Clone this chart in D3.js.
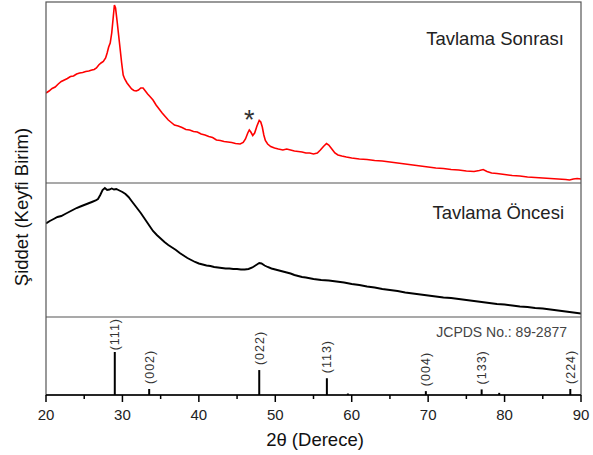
<!DOCTYPE html>
<meta charset="utf-8">
<head>
<script src="https://d3js.org/d3.v7.min.js"></script>
<style>
  body { margin: 0; background: #fff; }
  text { font-family: "Liberation Sans", Arial, sans-serif; }
</style>
</head>
<body>
<div id="chart"></div>
<script>
// 2theta / intensity (arb. units)
var sonrasiX = [20.0,20.4,20.8,21.2,21.6,22.0,22.4,22.8,23.2,23.6,24.0,24.4,24.8,25.2,25.6,26.0,26.3,26.6,26.9,27.2,27.5,27.8,28.0,28.2,28.4,28.6,28.8,28.95,29.1,29.3,29.5,29.7,29.9,30.1,30.3,30.6,30.9,31.2,31.5,31.8,32.1,32.4,32.7,33.0,33.3,33.6,34.0,34.4,34.8,35.2,35.6,36.0,36.4,36.8,37.3,37.8,38.3,38.8,39.3,39.8,40.3,40.8,41.3,41.8,42.3,42.8,43.3,43.8,44.3,44.8,45.4,45.8,46.1,46.4,46.6,46.8,47.05,47.3,47.6,47.9,48.1,48.3,48.5,48.7,49.0,49.4,49.9,50.4,51.0,51.5,52.0,52.5,53.0,53.5,54.0,54.5,55.0,55.5,55.9,56.3,56.7,57.0,57.4,57.8,58.2,58.7,59.3,60,61,62,63,64,65,66,67,68,69,70,71,72,73,74,75,76,76.7,77.2,77.7,78.3,79,80,81,82,83,84,85,86,87,88,88.5,89,89.5,90];
var sonrasiY = [90,92,94.5,96,99,101.5,103,104.5,106.5,107,109,110,110.5,111.5,112,113,113.5,115,118,120,121.5,125,130,136,140,150,166,178,175,162,148,134,120,108,104,100,97,94,92.5,92,93,95,95,92,89,86.5,83,78,74,70,66.5,63,60.5,58,57,55.5,53.5,53,51.5,51,49,48,46.5,45.5,43,42.5,41.5,41,40.5,39.5,39,40.5,44,50,53,51,47.5,50,57,62.5,61,56,48,42.5,39,36.5,35,34,33,34,33,32,31.5,31,30,30,29,30,33,36.5,39.5,38,34,30,28,27,26,25,24,23.5,22.5,22,21,20,19,18,17,16,15,14.5,13.5,13,12,11.5,12.5,13.5,11.5,10,9.5,8.5,7.5,7,6,5.5,5,4.5,4,3.5,3,4,4.5,4];

var oncesiX = [20.0,20.5,21.0,21.5,22.0,22.5,23.0,23.5,24.0,24.5,25.0,25.5,26.0,26.5,26.8,27.1,27.4,27.7,28.0,28.3,28.6,28.9,29.2,29.6,30.0,30.4,30.8,31.2,31.6,32.0,32.4,32.8,33.2,33.6,34.0,34.5,35.0,35.5,36.0,36.5,37.0,37.5,38.0,38.5,39.0,39.5,40.0,40.5,41.0,41.5,42.0,42.5,43.0,43.5,44.0,44.5,45.0,45.5,46.0,46.5,47.0,47.5,47.9,48.2,48.6,49.0,49.5,50.0,50.5,51.0,51.5,52.0,52.5,53.0,53.5,54,55,56,57,58,59,60,61,62,63,64,65,66,67,68,69,70,71,72,73,74,75,76,77,78,79,80,81,82,83,84,85,86,87,88,89,90];
var oncesiY = [93.5,96,98,100,101,103,105,107,109,110.5,112,113.5,115,116.5,118,122,127,129,127,127.5,128.5,127.5,128,126.5,125,123,120,116,112,108,104,99.5,95,90.5,86,82,78.5,75,72,69.5,67,64,61.5,59,57,55,53.5,52.5,51.5,51,50,49.5,49,48.5,48.5,48,48,47.5,47.5,48,49.5,52,54,53.5,51.5,50,48.5,47.5,46.5,45.5,44.5,43.5,42,41,40,39.5,38,37,36.5,35.5,34.5,33,32,30.5,29.5,28,27,26,24.5,23.5,22.5,21.5,20.5,19.5,19,18,17,16,15,14,13,12.5,11.5,10.5,10,9,8.5,7.5,6.5,5.5,4.5,3.5];

// JCPDS 89-2877 reference lines
var refPos = [29.0, 33.5, 47.9, 56.75, 59.5, 69.7, 77.0, 79.3, 88.6];
var refInt = [100, 14, 58, 39, 3.5, 9, 13, 5, 14];
var refHkl = ["(111)", "(002)", "(022)", "(113)", "", "(004)", "(133)", "", "(224)"];

var xTicks = [20, 30, 40, 50, 60, 70, 80, 90];
var xMinor = [25, 35, 45, 55, 65, 75, 85];

var W = 593, H = 455;
var L = 46, R = 581, T = 2, D1 = 183, D2 = 317, B = 395;

var svg = d3.select("#chart").append("svg").attr("width", W).attr("height", H);

var x = d3.scaleLinear().domain([20, 90]).range([L, R]);
var yTop = d3.scaleLinear().domain([0, 180]).range([D1, T + 1]);
var yMid = d3.scaleLinear().domain([0, 134]).range([D2, D1]);
var yRef = d3.scaleLinear().domain([0, 100]).range([B, B - 43]);

svg.append("clipPath").attr("id", "cTop").append("rect")
    .attr("x", L).attr("y", T).attr("width", R - L).attr("height", D1 - T);
svg.append("clipPath").attr("id", "cMid").append("rect")
    .attr("x", L).attr("y", D1).attr("width", R - L).attr("height", D2 - D1);

var lineTop = d3.line().x(function (d) { return x(d[0]); }).y(function (d) { return yTop(d[1]); });
var lineMid = d3.line().x(function (d) { return x(d[0]); }).y(function (d) { return yMid(d[1]); });

svg.append("path")
    .datum(d3.zip(sonrasiX, sonrasiY))
    .attr("clip-path", "url(#cTop)")
    .attr("d", lineTop)
    .attr("fill", "none").attr("stroke", "#ff0000").attr("stroke-width", 1.6);

svg.append("path")
    .datum(d3.zip(oncesiX, oncesiY))
    .attr("clip-path", "url(#cMid)")
    .attr("d", lineMid)
    .attr("fill", "none").attr("stroke", "#000").attr("stroke-width", 1.9);

// frame + panel dividers
svg.append("rect").attr("x", L).attr("y", T).attr("width", R - L).attr("height", B - T)
    .attr("fill", "none").attr("stroke", "#555").attr("stroke-width", 1.2);
[D1, D2].forEach(function (yy) {
    svg.append("line").attr("x1", L).attr("x2", R).attr("y1", yy).attr("y2", yy)
        .attr("stroke", "#555").attr("stroke-width", 1.2);
});

// reference sticks
var refs = d3.zip(refPos, refInt, refHkl);
svg.selectAll(".stick").data(refs).enter().append("line")
    .attr("x1", function (d) { return x(d[0]); })
    .attr("x2", function (d) { return x(d[0]); })
    .attr("y1", yRef(0))
    .attr("y2", function (d) { return yRef(d[1]); })
    .attr("stroke", "#000").attr("stroke-width", 2);

svg.selectAll(".hkl").data(refs.filter(function (d) { return d[2]; })).enter().append("text")
    .attr("font-size", 12.5).attr("letter-spacing", 1).attr("fill", "#333")
    .text(function (d) { return d[2]; })
    .each(function (d) {
        var len = this.getComputedTextLength();
        // sit just above the stick, but stay inside the panel
        var yb = Math.max(yRef(d[1]) - 5, D2 + 1 + len);
        d3.select(this).attr("transform", "translate(" + (x(d[0]) + 4.5) + "," + yb + ") rotate(-90)");
    });

// x axis
svg.append("line").attr("x1", L).attr("x2", R).attr("y1", B).attr("y2", B)
    .attr("stroke", "#000").attr("stroke-width", 1.5);
svg.selectAll(".tk").data(xTicks).enter().append("line")
    .attr("x1", x).attr("x2", x).attr("y1", B).attr("y2", B + 7)
    .attr("stroke", "#000").attr("stroke-width", 1.5);
svg.selectAll(".mtk").data(xMinor).enter().append("line")
    .attr("x1", x).attr("x2", x).attr("y1", B).attr("y2", B + 4)
    .attr("stroke", "#000").attr("stroke-width", 1.5);
svg.selectAll(".tl").data(xTicks).enter().append("text")
    .attr("x", x).attr("y", 420).attr("text-anchor", "middle")
    .attr("font-size", 15).attr("fill", "#222")
    .text(function (d) { return d; });

svg.append("text").attr("x", 315).attr("y", 446).attr("text-anchor", "middle")
    .attr("font-size", 18.5).attr("fill", "#111").text("2\u03b8 (Derece)");
svg.append("text").attr("transform", "translate(28,207) rotate(-90)").attr("text-anchor", "middle")
    .attr("font-size", 18.5).attr("fill", "#111").text("\u015eiddet (Keyfi Birim)");

// panel labels
svg.append("text").attr("x", 564).attr("y", 45).attr("text-anchor", "end")
    .attr("font-size", 18.5).attr("fill", "#222").text("Tavlama Sonras\u0131");
svg.append("text").attr("x", 564).attr("y", 219).attr("text-anchor", "end")
    .attr("font-size", 18.5).attr("fill", "#222").text("Tavlama \u00d6ncesi");
svg.append("text").attr("x", 567).attr("y", 336.5).attr("text-anchor", "end")
    .attr("font-size", 14).attr("fill", "#444").text("JCPDS No.: 89-2877");
svg.append("text").attr("x", x(46.6)).attr("y", 129).attr("text-anchor", "middle")
    .attr("font-size", 27).attr("fill", "#333").text("*");
</script>
</body>
</html>
